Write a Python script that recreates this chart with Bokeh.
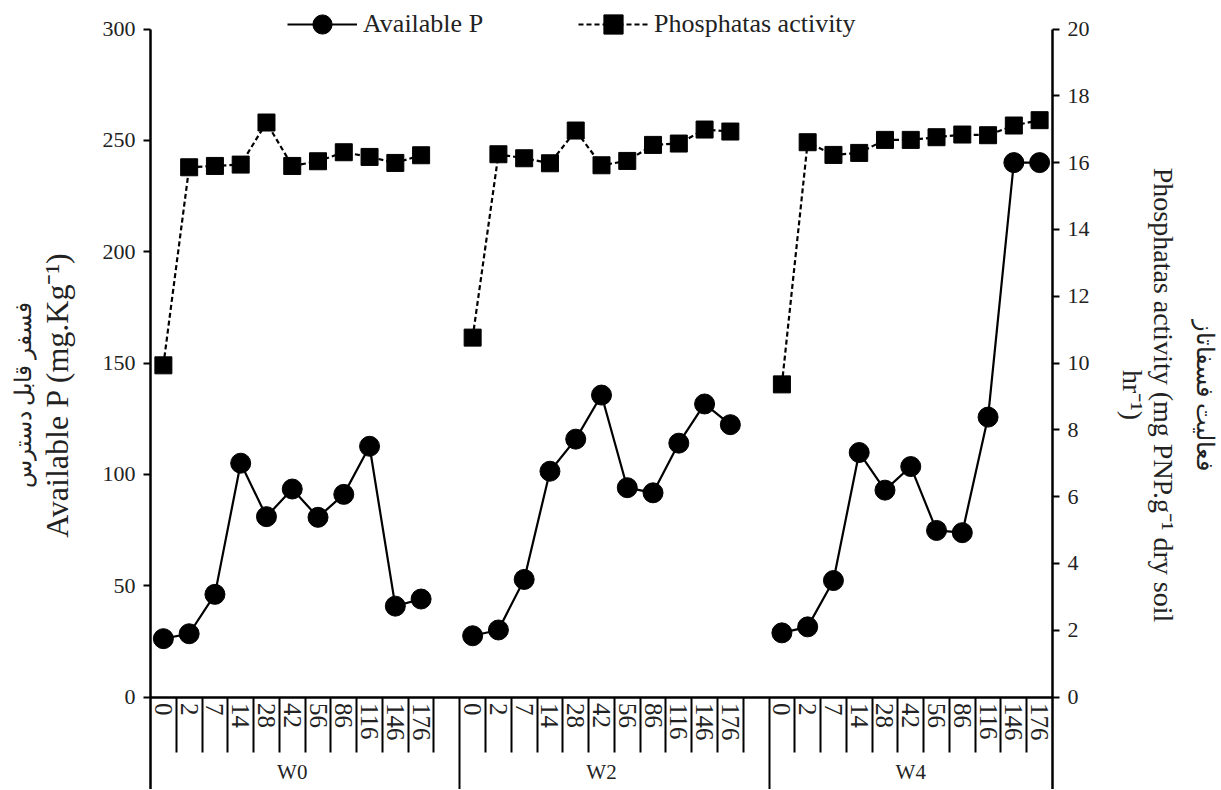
from bokeh.plotting import figure
from bokeh.models import Range1d, LinearAxis, FixedTicker, Legend, LegendItem
from bokeh.embed import file_html
from bokeh.resources import INLINE

# ---------------- data ----------------
groups = ["W0", "W2", "W4"]
days = ["0", "2", "7", "14", "28", "42", "56", "86", "116", "146", "176"]

avail_p_w0 = [26.2, 28.4, 46.1, 105.0, 81.0, 93.4, 80.7, 91.0, 112.6, 40.8, 44.0]
avail_p_w2 = [27.5, 30.1, 52.8, 101.4, 115.8, 135.6, 94.0, 91.7, 114.0, 131.6, 122.3]
avail_p_w4 = [28.8, 31.5, 52.3, 109.8, 92.9, 103.5, 74.8, 73.8, 125.7, 240.0, 240.0]

phos_w0 = [9.93, 15.86, 15.90, 15.94, 17.20, 15.90, 16.04, 16.31, 16.17, 15.99, 16.22]
phos_w2 = [10.76, 16.25, 16.13, 15.98, 16.96, 15.92, 16.05, 16.53, 16.57, 16.99, 16.93]
phos_w4 = [9.36, 16.61, 16.23, 16.29, 16.68, 16.68, 16.76, 16.84, 16.82, 17.11, 17.27]

left_ticks = [0, 50, 100, 150, 200, 250, 300]
right_ticks = [0, 2, 4, 6, 8, 10, 12, 14, 16, 18, 20]

left_label_fa = "فسفر قابل دسترس"
left_label_en = "Available P (mg.Kg\u207b\u00b9)"
right_label_fa = "فعالیت فسفاتاز"
right_label_en = "Phosphatas activity (mg PNP.g\u207b\u00b9 dry soil\nhr\u207b\u00b9)"

# ---------------- layout ----------------
FONT = "Liberation Serif"
W, H = 1220, 789
FRAME_L, FRAME_R = 150, 1059
Y_TOP_PX, Y_ZERO_PX = 28.5, 696.5      # screen rows of the top tick and of zero
SLOTS_PER_GROUP = 12                    # 11 days + one empty slot
n_slots = SLOTS_PER_GROUP * len(groups) - 1
FA_LEFT_SHIFT_PX = 15                   # move Persian left title down (px)
FA_RIGHT_SHIFT_PX = -44                 # move Persian right title up (px)

left_max = left_ticks[-1]
right_max = right_ticks[-1]
lu = (Y_ZERO_PX - Y_TOP_PX) / left_max
ru = (Y_ZERO_PX - Y_TOP_PX) / right_max
left_range = Range1d(-(H - Y_ZERO_PX) / lu, left_max + Y_TOP_PX / lu)
right_range = Range1d(-(H - Y_ZERO_PX) / ru, right_max + Y_TOP_PX / ru)

p = figure(width=W, height=H, output_backend="svg", toolbar_location=None,
           x_range=Range1d(-0.5, n_slots - 0.5), y_range=left_range,
           x_axis_type=None, y_axis_type=None,
           min_border_left=FRAME_L, min_border_right=W - FRAME_R,
           min_border_top=0, min_border_bottom=0)
p.extra_y_ranges = {"phos": right_range}
p.outline_line_color = None
p.background_fill_color = "white"
p.border_fill_color = "white"

# ---------------- series ----------------
avail_all = [avail_p_w0, avail_p_w2, avail_p_w4]
phos_all = [phos_w0, phos_w2, phos_w4]
first = {}
for gi, g in enumerate(groups):
    xs = [gi * SLOTS_PER_GROUP + i for i in range(len(days))]
    lp = p.line(xs, phos_all[gi], y_range_name="phos", line_color="black",
                line_width=2.2, line_dash="5 3")
    sp = p.scatter(xs, phos_all[gi], y_range_name="phos", marker="square", size=17,
                   fill_color="black", line_color="black")
    la = p.line(xs, avail_all[gi], line_color="black", line_width=2.2)
    sa = p.scatter(xs, avail_all[gi], marker="circle", size=20,
                   fill_color="black", line_color="black")
    if gi == 0:
        first = dict(lp=lp, sp=sp, la=la, sa=sa)

# ---------------- y axes ----------------
def style_y(ax, label_size):
    ax.axis_line_width = 2.5
    ax.axis_line_color = "black"
    ax.major_tick_line_width = 2
    ax.major_tick_line_color = "black"
    ax.major_tick_out = 7
    ax.major_tick_in = 0
    ax.minor_tick_line_color = None
    ax.minor_tick_out = 0
    ax.major_label_text_font = FONT
    ax.major_label_text_font_size = "22px"
    ax.major_label_text_color = "#222222"
    ax.major_label_standoff = 8
    ax.axis_label_text_font = FONT
    ax.axis_label_text_font_size = label_size
    ax.axis_label_text_font_style = "normal"
    ax.axis_label_text_color = "#222222"
    ax.axis_label_text_line_height = 1.0


def label_only_axis(text, size, standoff, **kw):
    ax = LinearAxis(ticker=FixedTicker(ticks=[], minor_ticks=[]), axis_label=text, **kw)
    ax.axis_line_color = None
    ax.major_tick_line_color = None
    ax.minor_tick_line_color = None
    ax.major_tick_out = 0
    ax.major_tick_in = 0
    ax.minor_tick_out = 0
    ax.minor_tick_in = 0
    ax.major_label_standoff = 0
    ax.axis_label_standoff = standoff
    ax.axis_label_text_font = FONT
    ax.axis_label_text_font_size = size
    ax.axis_label_text_font_style = "normal"
    ax.axis_label_text_color = "#222222"
    return ax


yl = LinearAxis(ticker=FixedTicker(ticks=left_ticks, minor_ticks=[]), axis_label=left_label_en,
                bounds=(left_range.start, left_max))
style_y(yl, "32px")
yl.axis_label_standoff = 25
p.add_layout(yl, "left")
ls = FA_LEFT_SHIFT_PX / lu
p.add_layout(label_only_axis(left_label_fa, "23px", 0,
                             bounds=(left_range.start - ls, left_max - ls)), "left")

yr = LinearAxis(y_range_name="phos", ticker=FixedTicker(ticks=right_ticks, minor_ticks=[]),
                axis_label=right_label_en, bounds=(right_range.start, right_max))
style_y(yr, "28px")
yr.axis_label_standoff = 24
p.add_layout(yr, "right")
rs = FA_RIGHT_SHIFT_PX / ru
p.add_layout(label_only_axis(right_label_fa, "24px", 10, y_range_name="phos",
                             bounds=(right_range.start - rs, right_max - rs)), "right")

# ---------------- x axes (all fixed at y = 0) ----------------
day_ticks, day_over, short_bounds, long_bounds = [], {}, [], []
for gi in range(len(groups)):
    base = gi * SLOTS_PER_GROUP
    for i, d in enumerate(days):
        day_ticks.append(base + i)
        day_over[base + i] = d
        short_bounds.append(base + i + 0.5)
    if gi < len(groups) - 1:
        long_bounds.append(base + SLOTS_PER_GROUP - 0.5)
short_bounds = [b for b in short_bounds if b < n_slots - 0.5]


def bare_axis(ticks, minor, overrides=None):
    ax = LinearAxis(fixed_location=0, ticker=FixedTicker(ticks=ticks, minor_ticks=minor),
                    major_label_overrides=overrides or {})
    ax.axis_line_color = None
    ax.major_tick_line_color = None
    ax.major_tick_out = 0
    ax.major_tick_in = 0
    ax.minor_tick_line_color = None
    ax.minor_tick_out = 0
    ax.minor_tick_in = 0
    ax.major_label_text_font = FONT
    ax.major_label_text_color = "#222222"
    return ax

# day labels + horizontal axis line
xa = bare_axis(day_ticks, [], day_over)
xa.axis_line_color = "black"
xa.axis_line_width = 2.5
xa.major_label_orientation = "vertical"
xa.major_label_standoff = 6
xa.major_label_text_font_size = "25px"
p.add_layout(xa, "below")

# short dividers between days
xb = bare_axis([], short_bounds)
xb.minor_tick_line_color = "black"
xb.minor_tick_line_width = 2
xb.minor_tick_out = 55
p.add_layout(xb, "below")

# long dividers between groups
xc = bare_axis([], long_bounds)
xc.minor_tick_line_color = "black"
xc.minor_tick_line_width = 2
xc.minor_tick_out = 120
p.add_layout(xc, "below")

# group labels
grp_ticks = [gi * SLOTS_PER_GROUP + (len(days) - 1) / 2 for gi in range(len(groups))]
ga = bare_axis(grp_ticks, [], {t: g for t, g in zip(grp_ticks, groups)})
ga.major_label_orientation = "horizontal"
ga.major_label_standoff = 63
ga.major_label_text_font_size = "21px"
p.add_layout(ga, "below")

# ---------------- legend ----------------
LEG_X, LEG_CY, LEG_H = 287, 24, 48
legend = Legend(items=[
    LegendItem(label="Available P", renderers=[first["la"], first["sa"]]),
    LegendItem(label="Phosphatas activity", renderers=[first["lp"], first["sp"]]),
], location=(LEG_X - FRAME_L, H - LEG_CY - LEG_H / 2), orientation="horizontal")
legend.glyph_width = 70
legend.glyph_height = LEG_H
legend.label_height = LEG_H
legend.label_standoff = 6
legend.spacing = 95
legend.padding = 0
legend.margin = 0
legend.border_line_color = None
legend.background_fill_alpha = 0
legend.label_text_font = FONT
legend.label_text_font_size = "26px"
legend.label_text_color = "#222222"
p.add_layout(legend, "center")

open("out.html", "w").write(file_html(p, INLINE))
